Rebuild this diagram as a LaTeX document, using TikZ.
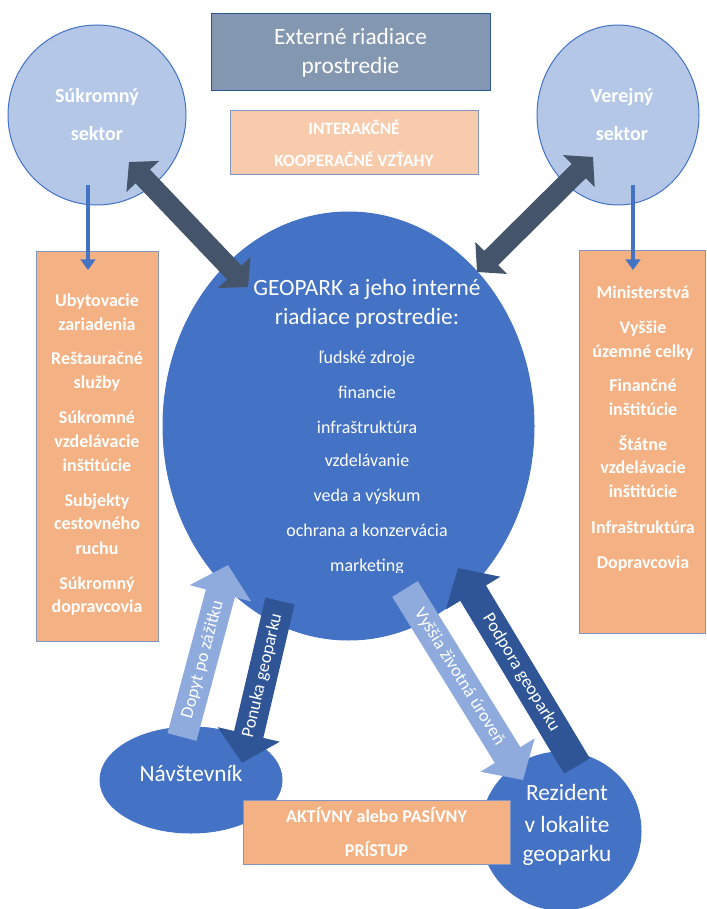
\documentclass[tikz,border=0pt]{standalone}
\usepackage{fontspec}
\setmainfont{Carlito}
\usetikzlibrary{arrows.meta,shapes.geometric,calc}

\definecolor{slate}{HTML}{44546A}
\definecolor{geoblue}{HTML}{4472C4}
\definecolor{paleblue}{HTML}{B4C7E7}
\definecolor{greyblue}{HTML}{8497B0}
\definecolor{peach}{HTML}{F8CBAD}
\definecolor{orangebox}{HTML}{F4B183}
\definecolor{lightarrow}{HTML}{8FAADC}
\definecolor{darkarrow}{HTML}{2F5597}
\definecolor{boxedge}{HTML}{7F96C4}

\tikzset{
  lbl/.style={text=white, inner sep=0pt, text height=0.7em, text depth=0.2em},
  boldlbl/.style={lbl, font=\fontsize{13.5}{16}\selectfont\bfseries},
  sectorlbl/.style={lbl, font=\fontsize{15}{18}\selectfont\bfseries},
  itemlbl/.style={lbl, font=\fontsize{13.5}{16}\selectfont},
  biglbl/.style={lbl, font=\fontsize{17.5}{21}\selectfont},
  arrowlbl/.style={text=white, inner sep=0pt, font=\fontsize{13.5}{16}\selectfont, sloped},
  sector/.style={ellipse, fill=paleblue, draw=geoblue, line width=0.75pt, inner sep=0pt},
  actor/.style={ellipse, fill=geoblue, draw=geoblue, line width=0.75pt, inner sep=0pt},
  listbox/.style={rectangle, fill=orangebox, draw=boxedge, line width=0.75pt, inner sep=0pt},
  feed/.style={draw=geoblue, line width=3pt, -{Triangle[length=8pt,width=11pt]}},
  tie/.style={draw=slate, line width=15pt,
    {Triangle[length=15pt,width=33pt]}-{Triangle[length=15pt,width=33pt]}},
  flowlight/.style={draw=lightarrow, line width=22.5pt, -{Triangle[length=22pt,width=46.5pt]}},
  flowdark/.style={draw=darkarrow, line width=22.5pt, -{Triangle[length=22pt,width=46.5pt]}}
}

\begin{document}
\begin{tikzpicture}[x=0.75pt,y=-0.75pt]
\useasboundingbox (0,0) rectangle (706,909);

% header boxes
\node[rectangle, fill=greyblue, draw=darkarrow, line width=0.75pt,
      minimum width={279*0.75pt}, minimum height={77*0.75pt}, inner sep=0pt,
      text=white, align=center, font=\fontsize{17.5}{21.75}\selectfont]
  (ext) at (350.5,52.5) {Externé riadiace\\prostredie};
\node[rectangle, fill=peach, draw=boxedge, line width=0.75pt,
      minimum width={248*0.75pt}, minimum height={64*0.75pt}, inner sep=0pt,
      text=white, align=center, font=\fontsize{13}{24}\selectfont\bfseries]
  (inter) at (354,143) {INTERAKČNÉ\\KOOPERAČNÉ VZŤAHY};

% sectors
\node[sector, minimum width={178*0.75pt}, minimum height={180*0.75pt}] (sukr) at (97,115) {};
\node[sector, minimum width={162*0.75pt}, minimum height={180*0.75pt}] (verej) at (618,115) {};
\node[sectorlbl] (sukrA) at (97,99) {Súkromný};
\node[sectorlbl] (sukrB) at (97,137) {sektor};
\node[sectorlbl] (verejA) at (622,99) {Verejný};
\node[sectorlbl] (verejB) at (622,137) {sektor};

% member lists
\node[listbox, minimum width={122*0.75pt}, minimum height={390*0.75pt}] (lbox) at (97,446) {};
\node[listbox, minimum width={126*0.75pt}, minimum height={383*0.75pt}] (rbox) at (642,441.5) {};
\foreach \t/\y [count=\i] in {Ubytovacie/303, zariadenia/327, Reštauračné/361, služby/385,
    Súkromné/420, vzdelávacie/444, inštitúcie/468, Subjekty/503, cestovného/526,
    ruchu/551, Súkromný/586, dopravcovia/609}
  \node[boldlbl] (lt\i) at (97,\y) {\t};
\foreach \t/\y [count=\i] in {Ministerstvá/295, Vyššie/330, územné celky/354, Finančné/388,
    inštitúcie/412, Štátne/447, vzdelávacie/470, inštitúcie/494, Infraštruktúra/530,
    Dopravcovia/565}
  \node[boldlbl] (rt\i) at (643,\y) {\t};

% thin feeds from the sectors into their lists
\coordinate (sukrOut) at (88,185);
\coordinate (lboxIn) at (88,270);
\coordinate (verejOut) at (633,185);
\coordinate (rboxIn) at (633,270);
\draw[feed] (sukrOut) -- (lboxIn);
\draw[feed] (verejOut) -- (rboxIn);

% geopark core
\node[actor, minimum width={371*0.75pt}, minimum height={428*0.75pt}] (geo) at (348.5,426) {};
\node[biglbl] (geoA) at (367,292) {GEOPARK a jeho interné};
\node[biglbl] (geoB) at (367,321) {riadiace prostredie:};
\begin{scope}
  \clip (160,330) rectangle (560,572.5);
  \foreach \t/\y [count=\i] in {ľudské zdroje/360, financie/395, infraštruktúra/430,
      vzdelávanie/463, veda a výskum/498, ochrana a konzervácia/533, marketing/568}
    \node[itemlbl] (gi\i) at (367,\y) {\t};
\end{scope}

% cooperation ties
\coordinate (tieL1) at (129,162);
\coordinate (tieL2) at (248,287);
\coordinate (tieR1) at (593,157);
\coordinate (tieR2) at (477,272);
\draw[tie] (tieL1) -- (tieL2);
\draw[tie] (tieR1) -- (tieR2);

% visitor and resident
\node[actor, minimum width={182*0.75pt}, minimum height={106*0.75pt}] (navst) at (191,780) {};
\node[actor, minimum width={160*0.75pt}, minimum height={158*0.75pt}] (rezid) at (561,831) {};
\node[biglbl] (navstT) at (191,778) {Návštevník};
\node[biglbl] (rezA) at (567,797) {Rezident};
\node[biglbl] (rezB) at (567,829) {v lokalite};
\node[biglbl] (rezC) at (567,858) {geoparku};

% flows between the core and its actors
\coordinate (dopT) at (182,737);
\coordinate (dopH) at (228,565);
\coordinate (ponT) at (280,601);
\coordinate (ponH) at (242,763);
\coordinate (vysT) at (405,589);
\coordinate (vysH) at (523,780);
\coordinate (podT) at (577,766);
\coordinate (podH) at (458,568);
\draw[flowlight] (dopT) -- node[arrowlbl, pos=0.45] (dopL) {Dopyt po zážitku} (dopH);
\draw[flowdark] (ponT) -- node[arrowlbl, pos=0.46] (ponL) {Ponuka geoparku} (ponH);
\draw[flowlight] (vysT) -- node[arrowlbl, pos=0.46] (vysL) {Vyššia životná úroveň} (vysH);
\draw[flowdark] (podT) -- node[arrowlbl, pos=0.47] (podL) {Podpora geoparku} (podH);

% access mode
\node[listbox, minimum width={267*0.75pt}, minimum height={64*0.75pt},
      text=white, align=center, font=\fontsize{13.5}{25.5}\selectfont\bfseries]
  (aktiv) at (376.5,832) {AKTÍVNY alebo PASÍVNY\\PRÍSTUP};
\end{tikzpicture}
\end{document}
